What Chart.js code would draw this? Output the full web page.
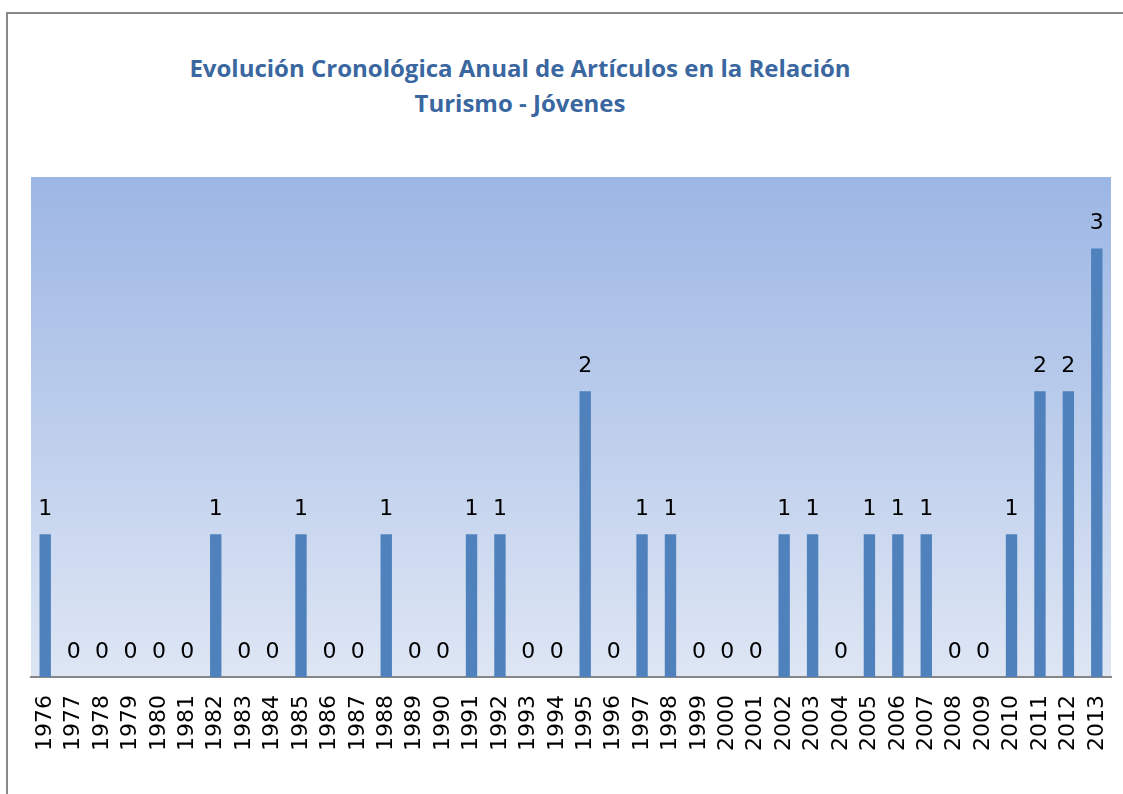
<!DOCTYPE html>
<html>
<head>
<meta charset="UTF-8">
<title>Evolución Cronológica Anual de Artículos en la Relación Turismo - Jóvenes</title>
<script src="https://cdn.jsdelivr.net/npm/chart.js@4.4.1/dist/chart.umd.min.js"></script>
<style>
	html, body { margin: 0; padding: 0; overflow: hidden; background: #fff; }
	#marco { position: absolute; left: 6px; top: 12px; width: 1200px; height: 900px; border: 2px solid #888; box-sizing: border-box; }
	#titulo { position: absolute; left: 0; top: 50px; width: 1040px; text-align: center;
		font-family: "Open Sans", sans-serif; font-weight: 700; font-size: 24px; line-height: 35px; color: #3A67A0; }
	#grafico { position: absolute; left: 0; top: 0; }
</style>
</head>
<body>
<div id="marco"></div>
<div id="titulo">Evolución Cronológica Anual de Artículos en la Relación<br>Turismo - Jóvenes</div>
<canvas id="grafico" width="1123" height="794"></canvas>
<script>
// años y número de artículos por año
var anios = ['1976','1977','1978','1979','1980','1981','1982','1983','1984','1985',
	'1986','1987','1988','1989','1990','1991','1992','1993','1994','1995',
	'1996','1997','1998','1999','2000','2001','2002','2003','2004','2005',
	'2006','2007','2008','2009','2010','2011','2012','2013'];
var articulos = [1,0,0,0,0,0,1,0,0,1,
	0,0,1,0,0,1,1,0,0,2,
	0,1,1,0,0,0,1,1,0,1,
	1,1,0,0,1,2,2,3];

// fondo degradado del área de trazado
var fondo = {
	id: 'fondo',
	beforeDraw: function(chart) {
		var a = chart.chartArea, ctx = chart.ctx;
		var g = ctx.createLinearGradient(0, a.top, 0, a.bottom);
		g.addColorStop(0, '#9CB6E4');
		g.addColorStop(1, '#DEE6F4');
		ctx.save();
		ctx.fillStyle = g;
		ctx.fillRect(a.left, a.top, a.right - a.left, a.bottom - a.top);
		ctx.restore();
	}
};

// etiquetas de valor encima de cada barra
var etiquetas = {
	id: 'etiquetas',
	afterDatasetsDraw: function(chart) {
		var ctx = chart.ctx;
		var meta = chart.getDatasetMeta(0);
		ctx.save();
		ctx.font = '22px "DejaVu Sans"';
		ctx.fillStyle = '#000';
		ctx.textAlign = 'center';
		ctx.textBaseline = 'alphabetic';
		meta.data.forEach(function(bar, i) {
			ctx.fillText(String(articulos[i]), bar.x, bar.y - 19);
		});
		ctx.restore();
	}
};

var ctx = document.getElementById('grafico').getContext('2d');
var grafico = new Chart(ctx, {
	type: 'bar',
	data: {
		labels: anios,
		datasets: [{
			data: articulos,
			backgroundColor: '#4F81BD',
			borderWidth: 0,
			barPercentage: 0.4,
			categoryPercentage: 1
		}]
	},
	plugins: [fondo, etiquetas],
	options: {
		responsive: false,
		animation: false,
		layout: { padding: { left: 31, right: 12, top: 177, bottom: 0 } },
		plugins: { legend: { display: false }, tooltip: { enabled: false } },
		scales: {
			x: {
				grid: { display: false, drawTicks: false },
				border: { display: true, color: '#868686', width: 2 },
				ticks: {
					color: '#000',
					font: { family: 'DejaVu Sans', size: 22 },
					minRotation: 90,
					maxRotation: 90,
					autoSkip: false,
					padding: 18
				},
				afterFit: function(s) {
					s.height = 117;
					s.paddingLeft = 0;
					s.paddingRight = 0;
				}
			},
			y: {
				display: false,
				min: 0,
				max: 3.5
			}
		}
	}
});
</script>
</body>
</html>
